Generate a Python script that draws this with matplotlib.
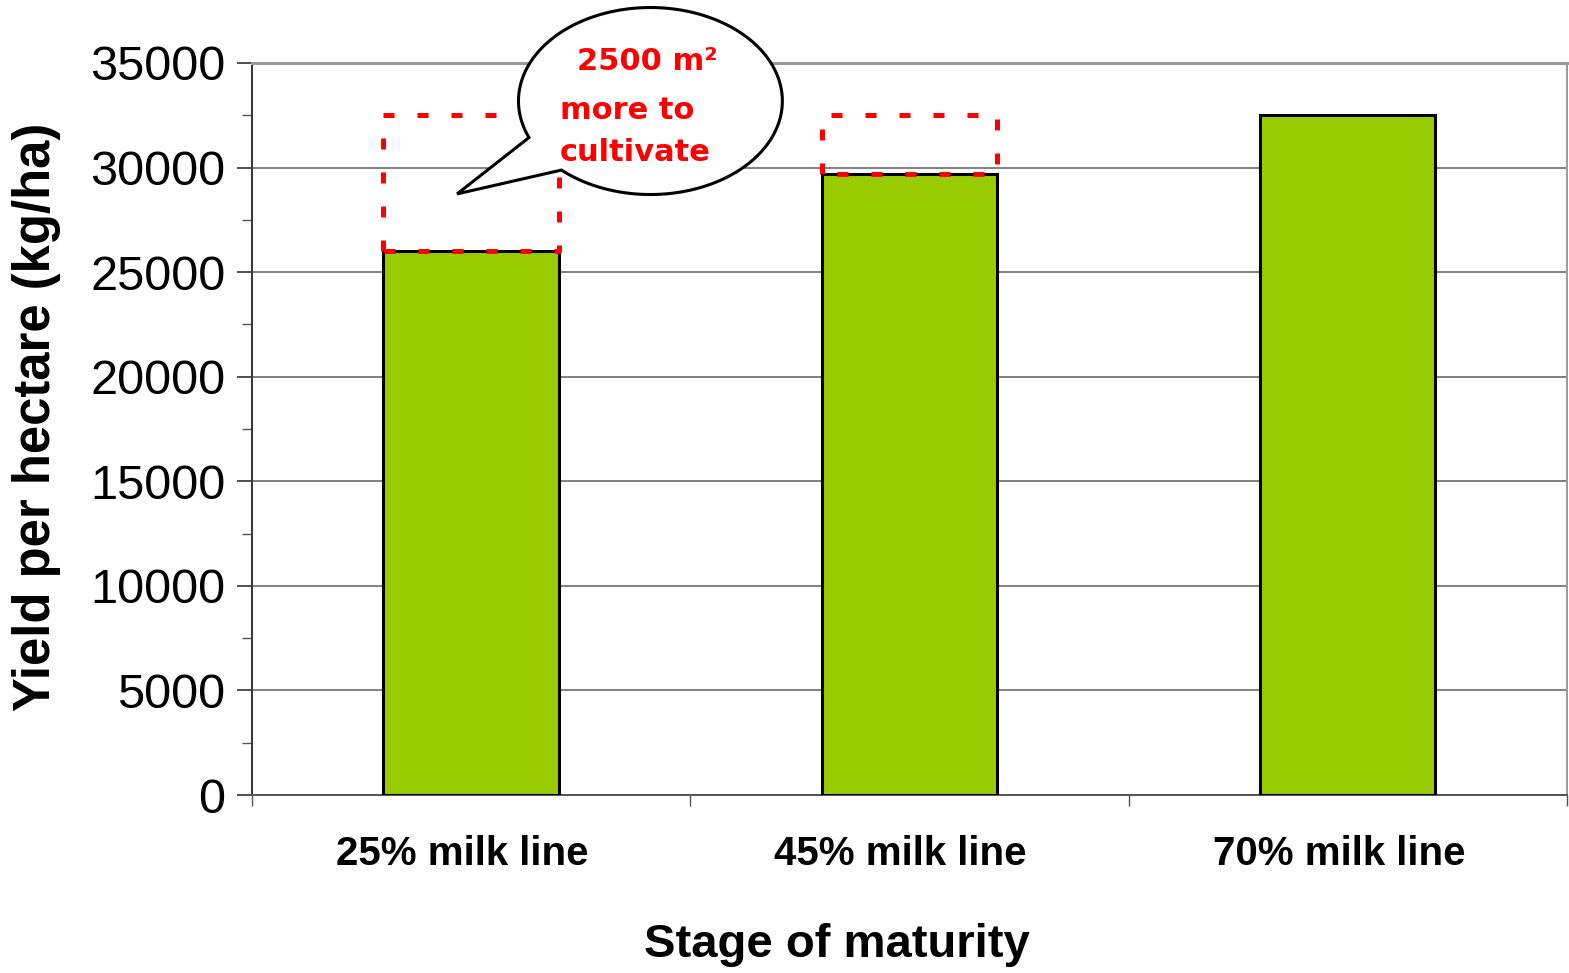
import numpy as np
import matplotlib
matplotlib.use("Agg")
import matplotlib.pyplot as plt
from matplotlib.patches import Polygon

plt.rcParams["font.family"] = ["Liberation Sans", "DejaVu Sans"]

stages = ["25% milk line", "45% milk line", "70% milk line"]
yields = [26000, 29700, 32500]  # kg/ha
callout_lines = ["2500 m²", "more to", "cultivate"]

BAR_GREEN = "#99CC00"
BAR_W = 0.4

fig = plt.figure(figsize=(15.69, 9.73), dpi=100)
ax = fig.add_axes([0.1606, 0.1829, 0.8381, 0.7524])

x = np.arange(len(stages))
ax.bar(x, yields, BAR_W, color=BAR_GREEN, edgecolor="black", linewidth=2.2, zorder=3)

# dashed boxes showing the shortfall to the latest stage
for xi, v in zip(x[:-1], yields[:-1]):
    left, right = xi - BAR_W / 2, xi + BAR_W / 2
    ax.plot([left, left, right, right, left], [v, yields[-1], yields[-1], v, v],
            color="#FF0000", lw=3.6, ls=(0, (2.2, 4.6)), zorder=4, clip_on=False)

ax.set_xlim(-0.5, 2.5)
ax.set_ylim(0, 35000)
ax.set_yticks(np.arange(0, 35001, 5000))
ax.set_yticks(np.arange(2500, 35000, 5000), minor=True)
ax.tick_params(axis="y", which="major", length=11, width=1.2, labelsize=35, pad=8, color="#333333")
ax.tick_params(axis="y", which="minor", length=7, width=1.0, color="#555555")
ax.yaxis.grid(True, color="#808080", lw=1.4, zorder=0)

ax.set_xticks([-0.5, 0.5, 1.5, 2.5], labels=[""] * 4)
ax.set_xticks(x - 0.02, labels=stages, minor=True)
ax.tick_params(axis="x", which="major", length=8, width=1.0, color="#555555")
ax.tick_params(axis="x", which="minor", length=0, labelsize=29, pad=29)
for lab in ax.get_xticklabels(minor=True):
    lab.set_fontweight("bold")

ax.spines["left"].set_color("#333333")
ax.spines["left"].set_linewidth(1.4)
ax.spines["bottom"].set_color("#555555")
ax.spines["bottom"].set_linewidth(1.4)
ax.spines["top"].set_color("#999999")
ax.spines["top"].set_linewidth(2.2)
ax.spines["right"].set_color("#999999")
ax.spines["right"].set_linewidth(1.4)

ax.set_ylabel("Yield per hectare (kg/ha)", fontsize=36.5, fontweight="bold")
ax.yaxis.set_label_coords(-0.145, 0.516)
fig.text(0.5335, 0.0288, "Stage of maturity", fontsize=34, fontweight="bold",
         ha="center", va="center")

# speech bubble (data coords)
cx, cy, a, b = 0.409, 33180, 0.301, 4470
t = np.radians(np.linspace(227.6, 563.0, 200))
pts = list(zip(cx + a * np.cos(t), cy + b * np.sin(t)))
pts.append((-0.032, 28740))
ax.add_patch(Polygon(pts, closed=True, facecolor="white", edgecolor="black",
                     lw=2.2, zorder=5, clip_on=False))

ax.text(0.242, 35050, callout_lines[0], color="#FF0000", fontsize=22, fontweight="bold",
        family="DejaVu Sans", ha="left", va="center", zorder=6)
ax.text(0.203, 32750, callout_lines[1], color="#FF0000", fontsize=22, fontweight="bold",
        family="DejaVu Sans", ha="left", va="center", zorder=6)
ax.text(0.203, 30740, callout_lines[2], color="#FF0000", fontsize=22, fontweight="bold",
        family="DejaVu Sans", ha="left", va="center", zorder=6)

fig.savefig("out.png", dpi=100)
